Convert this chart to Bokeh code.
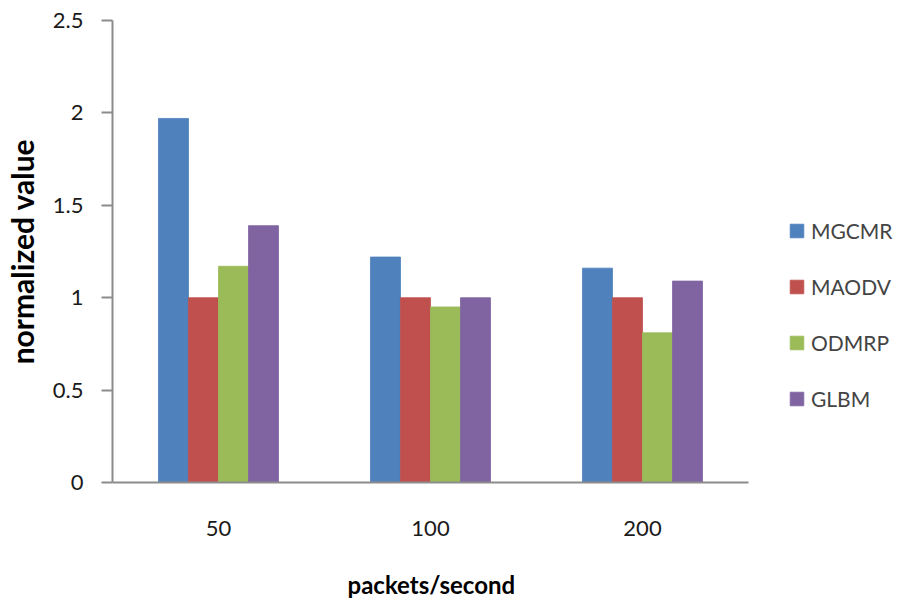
from bokeh.plotting import figure
from bokeh.models import ColumnDataSource, Legend, LegendItem, SingleIntervalTicker, FixedTicker, Title
from bokeh.transform import dodge
from bokeh.embed import file_html
from bokeh.resources import INLINE

categories = ["50", "100", "200"]
series_names = ["MGCMR", "MAODV", "ODMRP", "GLBM"]
mgcmr = [1.97, 1.22, 1.16]
maodv = [1.00, 1.00, 1.00]
odmrp = [1.17, 0.95, 0.81]
glbm = [1.39, 1.00, 1.09]
colors = ["#4F81BD", "#C0504D", "#9BBB59", "#8064A2"]

FONT = "Lato"

xc = [i + 0.5 for i in range(len(categories))]
src = ColumnDataSource(data=dict(xc=xc, cat=categories, MGCMR=mgcmr, MAODV=maodv, ODMRP=odmrp, GLBM=glbm))

p = figure(width=898, height=606, x_range=(0, 786 / 212), y_range=(0, 2.5),
           output_backend="svg", toolbar_location=None,
           min_border_left=112, min_border_right=0, min_border_top=20, min_border_bottom=124)
p.outline_line_color = None
p.grid.grid_line_color = None
p.background_fill_color = "white"

bw = 0.1415
offsets = [-0.2123, -0.0708, 0.0708, 0.2123]
renderers = []
for name, off, c in zip(series_names, offsets, colors):
    r = p.vbar(x=dodge("xc", off), top=name, width=bw, source=src,
               fill_color=c, line_color=c, line_width=0.8)
    renderers.append(r)

axis_color = "#8C8C8C"
for ax in (p.xaxis[0], p.yaxis[0]):
    ax.axis_line_color = axis_color
    ax.axis_line_width = 2
    ax.major_label_text_font = FONT
    ax.major_label_text_font_size = "22px"
    ax.major_label_text_color = "#1a1a1a"
    ax.axis_label_text_font = FONT
    ax.axis_label_text_font_style = "bold"
    ax.axis_label_text_color = "black"

p.yaxis.ticker = SingleIntervalTicker(interval=0.5)
p.yaxis.minor_tick_line_color = None
p.yaxis.major_tick_line_color = axis_color
p.yaxis.major_tick_line_width = 2
p.yaxis.major_tick_out = 11
p.yaxis.major_tick_in = 0
p.yaxis.major_label_standoff = 18
p.yaxis.axis_label = "normalized value"
p.yaxis.axis_label_text_font_size = "30px"
p.yaxis.axis_label_standoff = 10

p.xaxis.ticker = FixedTicker(ticks=xc)
p.xaxis.major_label_overrides = {x: c for x, c in zip(xc, categories)}
p.xaxis.bounds = (0, len(categories))
p.xaxis.major_tick_line_color = None
p.xaxis.minor_tick_line_color = None
p.xaxis.major_tick_out = 0
p.xaxis.major_label_standoff = 38

xtitle = Title(text="\npackets/second", align="left", offset=235, standoff=0,
               vertical_align="bottom",
               text_font=FONT, text_font_size="24px", text_font_style="bold", text_color="black")
p.add_layout(xtitle, "below")

items = [LegendItem(label=n, renderers=[r]) for n, r in zip(series_names, renderers)]
legend = Legend(items=items, location=(676, 71), orientation="vertical",
                glyph_width=17, glyph_height=17, label_height=17, spacing=31,
                label_text_font=FONT, label_text_font_size="21px", label_standoff=6,
                padding=0, margin=0, border_line_color=None, background_fill_alpha=0,
                label_text_baseline="middle")
p.add_layout(legend, "center")

open("out.html", "w").write(file_html(p, INLINE))
